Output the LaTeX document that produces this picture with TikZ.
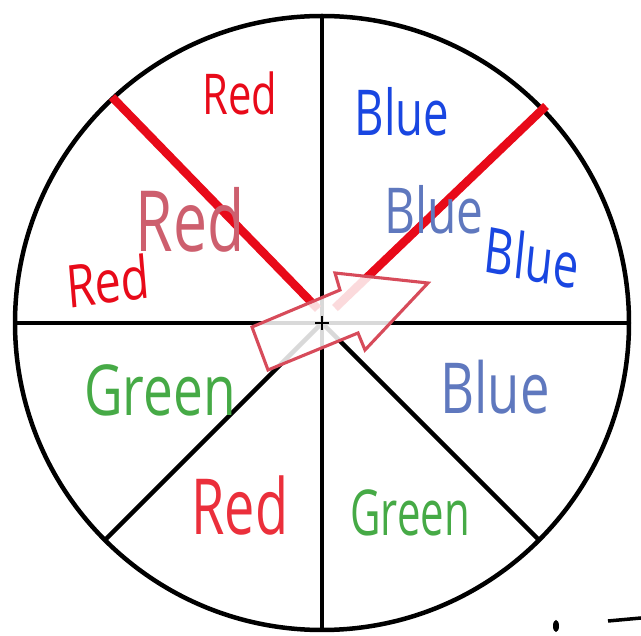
\documentclass[tikz,border=0pt]{standalone}
\usepackage{fontspec}
\setmainfont{Open Sans}
\usetikzlibrary{calc}
\definecolor{cRed}{RGB}{232,10,25}
\definecolor{cBlue}{RGB}{25,70,225}
\definecolor{cPaleRed}{RGB}{205,95,110}
\definecolor{cPaleBlue}{RGB}{95,120,190}
\definecolor{cGreen}{RGB}{70,170,70}
\definecolor{cArrow}{RGB}{215,75,90}
\newcommand{\handsize}[1]{\fontsize{#1}{#1}\selectfont}
\tikzset{
	rim/.style      ={draw=black, line width=3.2pt},
	spoke/.style    ={black, line width=3.2pt},
	redspoke/.style ={cRed, line width=6pt},
	word/.style     ={inner sep=0pt, anchor=center, xscale=0.72},
	pointer/.style  ={draw=cArrow, line width=2.2pt, fill=white, fill opacity=0.85, line join=miter},
}
\begin{document}
\begin{tikzpicture}[x=0.025cm, y=-0.025cm]
	\useasboundingbox (0,0) rectangle (641,636);
	% wheel
	\coordinate (c) at (322,323);
	\coordinate (top) at (322,16); \coordinate (bot) at (322,630);
	\coordinate (lft) at (15,323); \coordinate (rgt) at (629,323);
	\coordinate (ll) at (105,540); \coordinate (lr) at (539,540);
	\coordinate (ul) at (112,97); \coordinate (ur) at (546,106);
	\coordinate (hubL) at (318,309); \coordinate (hubR) at (335,308);
	\draw[rim] (c) circle[radius=307];
	\draw[spoke] (top) -- (bot); \draw[spoke] (lft) -- (rgt);
	\draw[spoke] (c) -- (ll); \draw[spoke] (c) -- (lr);
	\draw[redspoke] (ul) -- (hubL); \draw[redspoke] (hubR) -- (ur);
	% pointer
	\draw[pointer] (252,327) -- (340,290) -- (335,273) -- (428,283) -- (365,350) -- (358,333) -- (268,370) -- cycle;
	\draw[spoke, line width=1.2pt] (315,323) -- (329,323) (322,316) -- (322,330);
	% labels
	\node[word, text=cRed, font=\handsize{40}, xscale=1.03] (redA) at (240,93) {Red};
	\node[word, text=cBlue, font=\handsize{45}] (blueA) at (402,112) {Blue};
	\node[word, text=cPaleRed, font=\handsize{60}] (redB) at (190,220) {Red};
	\node[word, text=cPaleBlue, font=\handsize{45}, xscale=1.05] (blueB) at (434,210) {Blue};
	\node[word, text=cBlue, font=\handsize{45}, rotate=-8] (blueC) at (532,257) {Blue};
	\node[word, text=cRed, font=\handsize{42}, xscale=1.1, rotate=6] (redC) at (108,281) {Red};
	\node[word, text=cGreen, font=\handsize{50}, xscale=1.05] (greenA) at (160,390) {Green};
	\node[word, text=cPaleBlue, font=\handsize{50}, xscale=1.04] (blueD) at (495,387) {Blue};
	\node[word, text=cRed!85!white, font=\handsize{55}, xscale=0.97] (redD) at (240,505) {Red};
	\node[word, text=cGreen, font=\handsize{45}, xscale=0.92] (greenB) at (410,513) {Green};
	% marks at the corner
	\fill (556,626) ellipse[x radius=3, y radius=6];
	\draw[line width=2.5pt] (608,621) -- (641,618);
\end{tikzpicture}
\end{document}
